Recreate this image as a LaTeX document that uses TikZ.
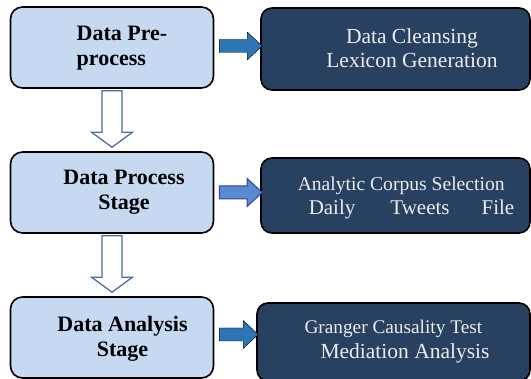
\documentclass[tikz,border=0pt]{standalone}
\usepackage{fontspec}
\setmainfont{Liberation Serif}
\usetikzlibrary{calc}
\definecolor{stagefill}{RGB}{198,217,241}
\definecolor{taskfill}{RGB}{41,65,97}
\definecolor{tasktext}{RGB}{236,236,236}
\definecolor{arrowblue}{RGB}{46,117,182}
\definecolor{arrowlight}{RGB}{88,138,206}
\definecolor{arrowedge}{RGB}{62,62,160}
\definecolor{hollowedge}{RGB}{72,110,165}
% block arrow pointing down, from the bottom of one stage to the top of the next
\newcommand{\downblock}[2]{%
\draw[hollowarrow] let \p1=(#1.south), \p2=(#2.north) in
  (\x1-10pt,\y1-2pt) -- (\x1+10pt,\y1-2pt) -- (\x1+10pt,\y2+19pt) -- (\x1+20.5pt,\y2+19pt)
  -- (\x1,\y2+4pt) -- (\x1-20.5pt,\y2+19pt) -- (\x1-10pt,\y2+19pt) -- cycle;}
% block arrow pointing right, from a stage to its task box
\newcommand{\rightblock}[4]{%
\draw[#3] let \p1=(#1.east), \p2=(#2.west) in
  (\x1+5pt,\y1+#4+6.5pt) -- (\x2-13pt,\y1+#4+6.5pt) -- (\x2-13pt,\y1+#4+14pt) -- (\x2+2pt,\y1+#4)
  -- (\x2-13pt,\y1+#4-14pt) -- (\x2-13pt,\y1+#4-6.5pt) -- (\x1+5pt,\y1+#4-6.5pt) -- cycle;}
\begin{document}
\begin{tikzpicture}[x=1pt,y=-1pt,
  stage/.style={draw=black,line width=1.6pt,fill=stagefill,rounded corners=12pt,
    minimum width=203pt,minimum height=81pt},
  task/.style={draw=black,line width=1.6pt,fill=taskfill,rounded corners=11pt},
  stagetext/.style={font=\bfseries\fontsize{22}{25}\selectfont,inner sep=0pt},
  tasktxt/.style={text=tasktext,inner sep=0pt},
  hollowarrow/.style={draw=hollowedge,line width=1.3pt,fill=white},
  solidarrow/.style={fill=arrowblue},
  outlinearrow/.style={draw=arrowedge,line width=1pt,fill=arrowlight}]
\useasboundingbox (0,0) rectangle (531,379);

% stages on the left
\node[stage] (pre) at (112,47.5) {};
\node[stage] (proc) at (112,192.5) {};
\node[stage] (anal) at (112,337.5) {};
\node[stagetext,align=left] (pretext) at (122,48.5) {Data Pre-\\process};
\node[stagetext,align=center] (proctext) at (124,192.5) {Data Process\\Stage};
\node[stagetext,align=center] (analtext) at (122.5,338.5) {Data Analysis\\Stage};

% tasks on the right
\node[task,minimum width=269pt,minimum height=82pt] (clean) at (395.5,49) {};
\node[task,minimum width=269pt,minimum height=75pt] (corpus) at (395.5,195.5) {};
\node[task,minimum width=273pt,minimum height=78pt] (granger) at (393.5,342) {};
\node[tasktxt,align=center,font=\fontsize{21.5}{24}\selectfont] (cleantext) at (412,48.5)
  {Data Cleansing\\Lexicon Generation};
\node[tasktxt,align=left,font=\fontsize{21}{24}\selectfont] (corpustext) at (406,198)
  {{\fontsize{19.6}{24}\selectfont Analytic Corpus Selection}\\
   \hspace*{11pt}Daily\hspace{35pt}Tweets\hspace{32pt}File};
\node[tasktxt,align=left,font=\fontsize{21.5}{25}\selectfont] (grangertext) at (397,342)
  {{\fontsize{19.3}{25}\selectfont Granger Causality Test}\\
   \hspace*{16pt}Mediation Analysis};

% arrows
\downblock{pre}{proc}
\downblock{proc}{anal}
\rightblock{pre}{clean}{solidarrow}{1.5pt}
\rightblock{proc}{corpus}{outlinearrow}{0pt}
\rightblock{anal}{granger}{solidarrow}{3pt}
\end{tikzpicture}
\end{document}
